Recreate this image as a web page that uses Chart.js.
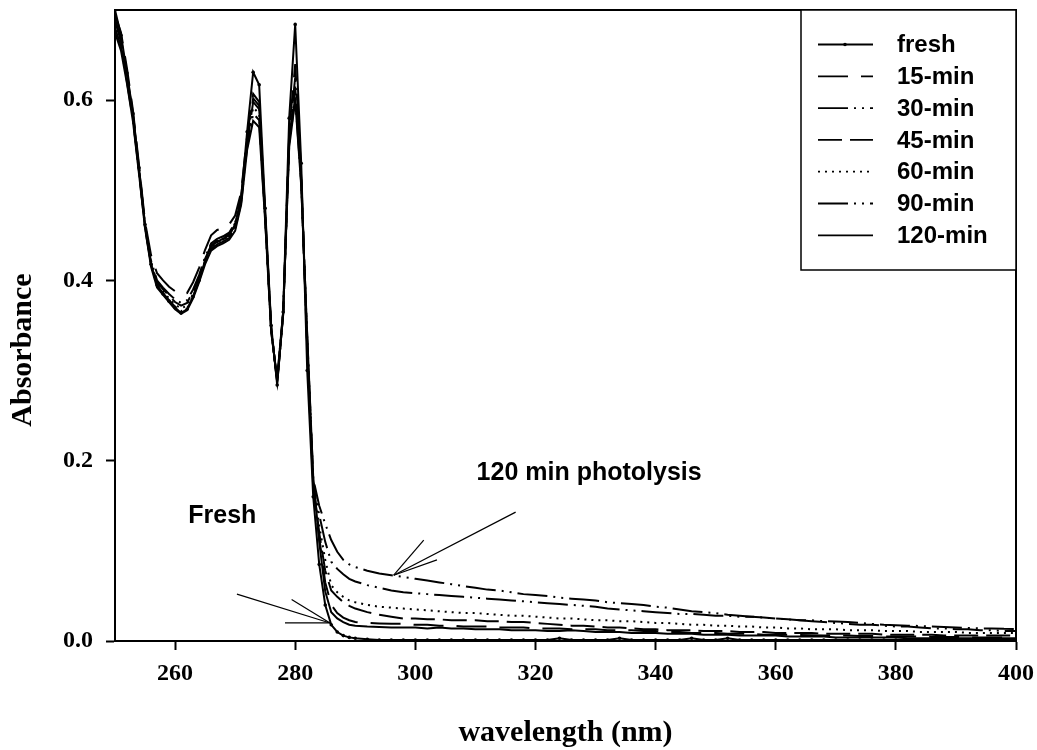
<!DOCTYPE html>
<html>
<head>
<meta charset="utf-8">
<script src="https://cdn.jsdelivr.net/npm/chart.js@4.4.0/dist/chart.umd.min.js"></script>
<style>
  body { margin: 0; background: #fff; }
  #wrap { width: 1037px; height: 750px; }
</style>
</head>
<body>
<div id="wrap"><canvas id="chart" width="1037" height="750"></canvas></div>
<script>
// wavelength (nm): 1 nm steps through the bands, 2 nm steps in the tail
const wavelength = [
  250,251,252,253,254,255,256,257,258,259,260,261,262,263,264,265,266,267,268,269,
  270,271,272,273,274,275,276,277,278,279,280,281,282,283,284,285,286,287,288,289,290,
  292,294,296,298,300,302,304,306,308,310,312,314,316,318,320,322,324,326,328,330,
  332,334,336,338,340,342,344,346,348,350,352,354,356,358,360,362,364,366,368,370,
  372,374,376,378,380,382,384,386,388,390,392,394,396,398,400
];

const seriesNames = ['fresh', '15-min', '30-min', '45-min', '60-min', '90-min', '120-min'];

const absFresh = [
  0.700,0.672,0.630,0.585,0.525,0.462,0.418,0.395,0.385,0.377,
  0.370,0.364,0.368,0.382,0.400,0.422,0.438,0.443,0.446,0.450,
  0.462,0.492,0.565,0.631,0.617,0.480,0.350,0.284,0.365,0.580,
  0.684,0.530,0.300,0.160,0.085,0.040,0.018,0.010,0.006,0.004,0.003,
  0.002,0.001,0.001,0.001,0.001,0.001,0.001,0.001,0.001,0.001,
  0.001,0.001,0.001,0.001,0.001,0.001,0.003,0.001,0.001,0.001,
  0.001,0.003,0.001,0.001,0.001,0.001,0.001,0.003,0.001,0.001,
  0.003,0.001,0.001,0.001,0.001,0.001,0.001,0.001,0.001,0.001,
  0.001,0.001,0.001,0.001,0.001,0.001,0.001,0.001,0.001,0.001,
  0.001,0.001,0.001,0.001,0.001
];
const abs15 = [
  0.695,0.675,0.635,0.588,0.528,0.465,0.428,0.408,0.400,0.393,
  0.388,0.384,0.386,0.398,0.414,0.434,0.450,0.456,0.458,0.462,
  0.472,0.498,0.560,0.607,0.598,0.475,0.348,0.286,0.362,0.565,
  0.640,0.520,0.320,0.170,0.115,0.065,0.040,0.031,0.026,0.023,0.021,
  0.020,0.0195,0.019,0.019,0.018,0.018,0.017,0.017,0.016,0.016,
  0.016,0.015,0.015,0.015,0.014,0.014,0.014,0.013,0.013,0.013,
  0.012,0.012,0.012,0.011,0.011,0.010,0.010,0.009,0.009,0.009,
  0.008,0.008,0.008,0.007,0.007,0.007,0.0067,0.0065,0.006,0.006,
  0.006,0.0055,0.0055,0.005,0.005,0.005,0.005,0.0045,0.0045,0.0045,
  0.004,0.004,0.004,0.004,0.004
];
const abs30 = [
  0.690,0.668,0.628,0.583,0.524,0.462,0.422,0.400,0.392,0.385,
  0.379,0.375,0.378,0.390,0.406,0.426,0.441,0.446,0.449,0.453,
  0.464,0.493,0.555,0.602,0.594,0.473,0.347,0.287,0.362,0.560,
  0.625,0.515,0.325,0.172,0.140,0.110,0.088,0.080,0.074,0.069,0.066,
  0.062,0.059,0.056,0.054,0.053,0.052,0.051,0.050,0.049,0.048,
  0.047,0.046,0.045,0.044,0.043,0.042,0.041,0.040,0.039,0.038,
  0.036,0.035,0.034,0.033,0.032,0.031,0.030,0.030,0.029,0.028,
  0.028,0.027,0.027,0.026,0.025,0.024,0.023,0.022,0.021,0.020,
  0.019,0.018,0.018,0.017,0.016,0.016,0.015,0.014,0.014,0.013,
  0.013,0.012,0.012,0.011,0.011
];
const abs45 = [
  0.688,0.665,0.625,0.582,0.522,0.460,0.420,0.398,0.390,0.383,
  0.376,0.372,0.375,0.388,0.404,0.424,0.439,0.444,0.447,0.451,
  0.461,0.490,0.552,0.598,0.590,0.472,0.346,0.288,0.363,0.556,
  0.615,0.512,0.330,0.175,0.120,0.078,0.056,0.049,0.043,0.039,0.036,
  0.032,0.029,0.027,0.025,0.025,0.024,0.024,0.023,0.023,0.023,
  0.022,0.022,0.021,0.021,0.020,0.019,0.018,0.017,0.017,0.016,
  0.015,0.015,0.014,0.013,0.013,0.012,0.012,0.012,0.011,0.011,
  0.011,0.010,0.010,0.010,0.009,0.009,0.009,0.009,0.008,0.008,
  0.008,0.008,0.008,0.007,0.007,0.007,0.007,0.007,0.006,0.006,
  0.006,0.006,0.006,0.006,0.006
];
const abs60 = [
  0.685,0.662,0.622,0.580,0.520,0.460,0.418,0.397,0.388,0.380,
  0.373,0.369,0.372,0.385,0.402,0.422,0.437,0.442,0.445,0.449,
  0.459,0.488,0.550,0.592,0.585,0.470,0.345,0.289,0.364,0.553,
  0.608,0.510,0.335,0.178,0.128,0.090,0.062,0.054,0.049,0.045,0.043,
  0.040,0.038,0.037,0.036,0.035,0.034,0.033,0.032,0.031,0.031,
  0.030,0.029,0.028,0.028,0.027,0.026,0.025,0.025,0.024,0.023,
  0.023,0.022,0.022,0.021,0.020,0.020,0.019,0.018,0.018,0.017,
  0.017,0.016,0.016,0.015,0.015,0.014,0.014,0.013,0.013,0.013,
  0.012,0.012,0.012,0.011,0.011,0.011,0.010,0.010,0.010,0.010,
  0.009,0.009,0.009,0.009,0.009
];
const abs90 = [
  0.680,0.660,0.620,0.578,0.520,0.458,0.418,0.394,0.386,0.378,
  0.371,0.366,0.369,0.382,0.400,0.420,0.435,0.440,0.443,0.447,
  0.457,0.486,0.548,0.585,0.578,0.468,0.344,0.290,0.365,0.550,
  0.603,0.508,0.338,0.180,0.150,0.130,0.112,0.099,0.090,0.085,0.082,
  0.078,0.075,0.073,0.071,0.069,0.067,0.065,0.063,0.061,0.059,
  0.057,0.056,0.054,0.052,0.051,0.050,0.048,0.047,0.046,0.045,
  0.043,0.042,0.041,0.040,0.038,0.037,0.035,0.033,0.032,0.031,
  0.029,0.028,0.027,0.026,0.025,0.024,0.023,0.023,0.022,0.0215,
  0.021,0.020,0.019,0.018,0.0175,0.017,0.0167,0.016,0.0155,0.015,
  0.0145,0.014,0.014,0.0135,0.0133
];
const abs120 = [
  0.675,0.655,0.618,0.576,0.518,0.458,0.415,0.392,0.384,0.376,
  0.368,0.363,0.367,0.380,0.398,0.418,0.433,0.438,0.441,0.445,
  0.455,0.484,0.545,0.577,0.570,0.466,0.343,0.291,0.366,0.548,
  0.600,0.505,0.340,0.182,0.110,0.055,0.032,0.025,0.021,0.018,0.017,
  0.016,0.0155,0.015,0.015,0.015,0.014,0.015,0.014,0.014,0.013,
  0.013,0.013,0.012,0.012,0.012,0.011,0.011,0.012,0.011,0.010,
  0.010,0.010,0.009,0.009,0.009,0.008,0.008,0.008,0.007,0.007,
  0.007,0.006,0.006,0.006,0.006,0.005,0.005,0.005,0.005,0.004,
  0.004,0.004,0.004,0.004,0.004,0.003,0.003,0.003,0.003,0.003,
  0.003,0.003,0.003,0.003,0.003
];

const xTicks = [260, 280, 300, 320, 340, 360, 380, 400];
const yTicks = [0.0, 0.2, 0.4, 0.6];

// annotation text + arrow strokes, in data units
const noteLabels = ['120 min photolysis', 'Fresh'];
const noteAt = [[310.2, 0.186], [262.2, 0.138]];
const arrowLines = [
  [[316.7, 0.143], [296.4, 0.073]],
  [[301.4, 0.112], [296.4, 0.073]],
  [[303.6, 0.090], [296.4, 0.073]],
  [[270.3, 0.052], [285.8, 0.020]],
  [[279.4, 0.046], [285.8, 0.020]],
  [[278.3, 0.020], [285.8, 0.020]]
];

const allSeries = [absFresh, abs15, abs30, abs45, abs60, abs90, abs120];
const dashes = [[], [30, 13], [30, 6, 2, 6, 2, 6], [24, 8], [2, 5], [30, 6, 2, 6, 2, 6], []];

const SERIF = '"Liberation Serif", "Times New Roman", serif';
const SANS = '"Liberation Sans", Arial, sans-serif';

function pts(vals) {
  return wavelength.map((w, i) => ({ x: w, y: vals[i] }));
}

const datasets = allSeries.map((vals, i) => ({
  label: seriesNames[i],
  data: pts(vals),
  borderColor: '#000',
  backgroundColor: '#000',
  borderWidth: 2,
  borderDash: dashes[i],
  pointRadius: i === 0 ? 1.8 : 0,
  pointBorderWidth: 0,
  tension: 0,
  fill: false,
}));

const extras = {
  id: 'extras',
  afterDraw(chart) {
    const { ctx, chartArea: a, scales: { x, y } } = chart;
    ctx.save();
    ctx.strokeStyle = '#000';
    ctx.fillStyle = '#000';

    // top + right frame
    ctx.lineWidth = 2;
    ctx.beginPath();
    ctx.moveTo(a.left, a.top);
    ctx.lineTo(a.right, a.top);
    ctx.lineTo(a.right, a.bottom);
    ctx.stroke();

    // legend box
    const bx = a.right - 215, by = a.top, bw = 215, bh = 260;
    ctx.fillStyle = '#fff';
    ctx.fillRect(bx, by, bw, bh);
    ctx.lineWidth = 1.5;
    ctx.strokeRect(bx, by, bw, bh);
    ctx.fillStyle = '#000';
    ctx.font = 'bold 24px ' + SANS;
    ctx.textBaseline = 'middle';
    ctx.textAlign = 'left';
    chart.data.datasets.forEach((ds, i) => {
      const ry = by + 34.5 + i * 31.8;
      ctx.lineWidth = 1.8;
      ctx.setLineDash(ds.borderDash);
      ctx.beginPath();
      ctx.moveTo(bx + 17, ry);
      ctx.lineTo(bx + 72, ry);
      ctx.stroke();
      ctx.setLineDash([]);
      if (ds.pointRadius > 0) {
        ctx.beginPath();
        ctx.arc(bx + 44, ry, 1.8, 0, Math.PI * 2);
        ctx.fill();
      }
      ctx.fillText(ds.label, bx + 96, ry + 1);
    });

    // arrows and notes
    ctx.lineWidth = 1.2;
    arrowLines.forEach(([p, q]) => {
      ctx.beginPath();
      ctx.moveTo(x.getPixelForValue(p[0]), y.getPixelForValue(p[1]));
      ctx.lineTo(x.getPixelForValue(q[0]), y.getPixelForValue(q[1]));
      ctx.stroke();
    });
    ctx.font = 'bold 25px ' + SANS;
    noteLabels.forEach((t, i) => {
      ctx.fillText(t, x.getPixelForValue(noteAt[i][0]), y.getPixelForValue(noteAt[i][1]));
    });

    // axis titles
    ctx.font = 'bold 30px ' + SERIF;
    ctx.textAlign = 'center';
    ctx.fillText('wavelength (nm)', (a.left + a.right) / 2, 733);
    ctx.translate(23, 350);
    ctx.rotate(-Math.PI / 2);
    ctx.fillText('Absorbance', 0, 0);
    ctx.restore();
  }
};

new Chart(document.getElementById('chart'), {
  type: 'line',
  data: { datasets },
  options: {
    responsive: false,
    animation: false,
    events: [],
    layout: { padding: { left: 0, right: 21, top: 10, bottom: 0 } },
    plugins: { legend: { display: false }, tooltip: { enabled: false } },
    scales: {
      x: {
        type: 'linear',
        min: 250,
        max: 400,
        afterBuildTicks: s => { s.ticks = xTicks.map(v => ({ value: v })); },
        afterFit: s => { s.height = 109; s.paddingLeft = 0; s.paddingRight = 0; },
        ticks: { color: '#000', font: { family: SERIF, size: 24, weight: 'bold' }, padding: 9, maxRotation: 0, autoSkip: false },
        grid: { drawOnChartArea: false, color: '#000', tickLength: 9, tickWidth: 2 },
        border: { color: '#000', width: 2 }
      },
      y: {
        min: 0,
        max: 0.7,
        afterBuildTicks: s => { s.ticks = yTicks.map(v => ({ value: v })); },
        afterFit: s => { s.width = 115; s.paddingTop = 0; s.paddingBottom = 0; },
        ticks: { color: '#000', font: { family: SERIF, size: 24, weight: 'bold' }, padding: 13, callback: v => v.toFixed(1) },
        grid: { drawOnChartArea: false, color: '#000', tickLength: 9, tickWidth: 2 },
        border: { color: '#000', width: 2 }
      }
    }
  },
  plugins: [extras]
});
</script>
</body>
</html>
